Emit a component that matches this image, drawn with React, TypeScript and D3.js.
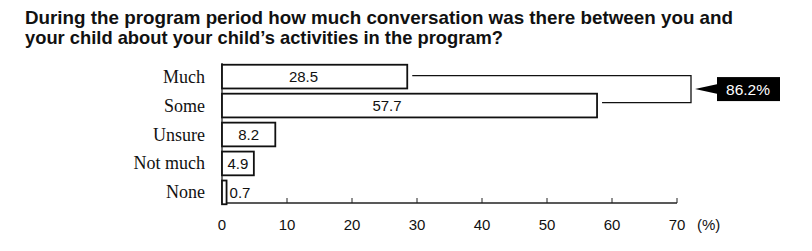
import React from "react";
import * as d3 from "d3";

const categories = ["Much", "Some", "Unsure", "Not much", "None"];
const values = [28.5, 57.7, 8.2, 4.9, 0.7];
const ticks = [0, 10, 20, 30, 40, 50, 60, 70];
const titleLines = [
  "During the program period how much conversation was there between you and",
  "your child about your child\u2019s activities in the program?",
];
const combinedLabel = "86.2%";

export default function App() {
  const W = 812, H = 251;
  const x = d3.scaleLinear().domain([0, 70]).range([222, 677]);
  const y = d3.scaleBand().domain(categories).range([63, 206]).paddingInner(0.18).paddingOuter(0.06);
  const axisY = 203;
  const bh = y.bandwidth();
  const cMuch = (y("Much") as number) + bh / 2;
  const cSome = (y("Some") as number) + bh / 2;
  const bracketX = 691;
  const topY = cMuch - 1;
  const botY = cSome - 3;
  const midY = (topY + botY) / 2;
  return (
    <svg width={W} height={H} style={{ position: "absolute", left: 0, top: 0, background: "#fff" }}>
      <rect width={W} height={H} fill="#fff" />
      {titleLines.map((t, i) => (
        <text key={i} x={25} y={24 + i * 20} fontFamily="'Liberation Sans',Arial,sans-serif" fontWeight="bold" fontSize={19} fill="#111"
          textLength={i === 0 ? 708 : 478} lengthAdjust="spacingAndGlyphs">{t}</text>
      ))}
      {/* axes */}
      <line x1={x(0)} x2={x(0)} y1={63} y2={axisY} stroke="#222" strokeWidth={1.3} />
      <line x1={x(0)} x2={x(70)} y1={axisY} y2={axisY} stroke="#222" strokeWidth={1.3} />
      {ticks.map((t) => (
        <g key={t}>
          {t > 0 && <line x1={x(t)} x2={x(t)} y1={axisY} y2={axisY - 5} stroke="#222" strokeWidth={1} />}
          <text x={x(t)} y={230} textAnchor="middle" fontFamily="'Liberation Sans',Arial,sans-serif" fontSize={15} fill="#111">{t}</text>
        </g>
      ))}
      <text x={697} y={230} fontFamily="'Liberation Sans',Arial,sans-serif" fontSize={15} fill="#111">(%)</text>
      {categories.map((c, i) => {
        const y0 = y(c) as number;
        const v = values[i];
        const w = x(v) - x(0);
        const small = v < 2;
        const lx = small ? x(v) + 3 : v > 20 ? x(0) + w * 0.44 : x(0) + w / 2;
        return (
          <g key={c}>
            <text x={205} y={y0 + bh / 2 + 6} textAnchor="end" fontFamily="'Liberation Serif','Times New Roman',serif" fontSize={18} fill="#111">{c}</text>
            <rect x={x(0)} y={y0} width={w} height={bh} fill="#fff" stroke="#111" strokeWidth={1.8} />
            <text x={lx} y={y0 + bh / 2 + 5.5} textAnchor={small ? "start" : "middle"} fontFamily="'Liberation Sans',Arial,sans-serif" fontSize={15} fill="#111">{v.toFixed(1)}</text>
          </g>
        );
      })}
      {/* bracket */}
      <path d={`M${x(values[0]) + 5},${topY} H${bracketX} V${botY} H${x(values[1]) + 5}`} fill="none" stroke="#111" strokeWidth={1.3} />
      <path d={`M${bracketX + 4},${midY} L${718},${midY - 5} L${718},${midY + 5} Z`} fill="#000" />
      <rect x={717} y={midY - 12} width={63} height={24} fill="#000" />
      <text x={748} y={midY + 5.5} textAnchor="middle" fontFamily="'Liberation Sans',Arial,sans-serif" fontSize={15.5} fill="#fff">{combinedLabel}</text>
    </svg>
  );
}
